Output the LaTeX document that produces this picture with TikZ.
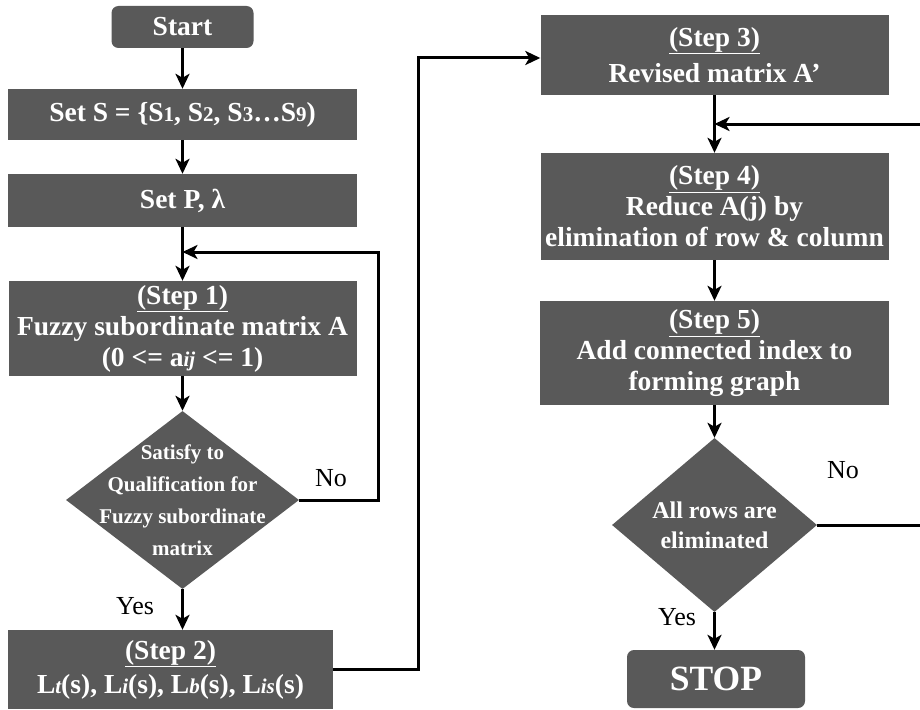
\documentclass[tikz,border=0pt]{standalone}
\usepackage{fontspec}
\setmainfont{Liberation Serif}
\usetikzlibrary{arrows.meta,shapes.geometric}
\definecolor{boxgray}{HTML}{595959}
\newcommand{\smalldig}[1]{{\fontsize{21}{21}\selectfont #1}}
\newcommand{\smallit}[1]{{\itshape\fontsize{21}{21}\selectfont #1}}
\begin{document}
\begin{tikzpicture}[x=1pt,y=-1pt,
  box/.style={draw=none,fill=boxgray,text=white,align=center,inner sep=0pt,font=\bfseries\fontsize{27.5}{31}\selectfont},
  term/.style={box,rounded corners=7pt},
  dia/.style={diamond,fill=boxgray,inner sep=0pt},
  dtext/.style={text=white,align=center,font=\bfseries\fontsize{21}{32}\selectfont},
  lbl/.style={font=\fontsize{26}{26}\selectfont},
  conn/.style={line width=3pt,-{Stealth[length=15pt,width=14pt,inset=4pt]}},
]
\useasboundingbox (0,0) rectangle (920,709);
\fill[white] (0,0) rectangle (920,709);
% left column
\node[term,minimum width=142pt,minimum height=42pt] (start) at (182.5,27) {Start};
\node[box,minimum width=349pt,minimum height=51pt] (sets) at (182.5,114.5) {Set S = \{S\smalldig{1}, S\smalldig{2}, S\smalldig{3}…S\smalldig{9})};
\node[box,minimum width=349pt,minimum height=53pt] (setp) at (182.5,200.5) {Set P, λ};
\node[box,minimum width=348pt,minimum height=95pt] (step1) at (182.5,328.5) {\underline{(Step 1)}\\Fuzzy subordinate matrix A\\(0 <= a\smallit{ij} <= 1)};
\node[dia,minimum width=233pt,minimum height=178pt] (d1) at (182.5,500) {};
\node[dtext] (d1t) at (d1) {Satisfy to\\Qualification for\\Fuzzy subordinate\\matrix};
\node[box,minimum width=325pt,minimum height=79pt] (step2) at (170.5,669.5) {\underline{(Step 2)}\\[3pt]L\smallit{t}(s), L\smallit{i}(s), L\smallit{b}(s), L\smallit{is}(s)};
% right column
\node[box,minimum width=348pt,minimum height=80pt] (step3) at (714.5,55) {\underline{(Step 3)}\\[5pt]Revised matrix A’};
\node[box,minimum width=348pt,minimum height=107pt] (step4) at (714.5,206.5) {\underline{(Step 4)}\\Reduce A(j) by\\elimination of row \& column};
\node[box,minimum width=349pt,minimum height=104pt] (step5) at (714.5,353) {\underline{(Step 5)}\\Add connected index to\\forming graph};
\node[dia,minimum width=205pt,minimum height=174pt] (d2) at (714.5,525) {};
\node[text=white,align=center,font=\bfseries\fontsize{24}{30}\selectfont] (d2t) at (d2) {All rows are\\eliminated};
\node[term,minimum width=178pt,minimum height=58pt,font=\bfseries\fontsize{35.5}{36}\selectfont] (stop) at (716,679) {STOP};
% labels
\node[lbl] (no1) at (331,478) {No};
\node[lbl] (yes1) at (135,606) {Yes};
\node[lbl] (no2) at (843,470) {No};
\node[lbl] (yes2) at (677,617) {Yes};
% connectors
\coordinate (j1) at (182.5,252);
\coordinate (r1) at (378,252);
\coordinate (c2) at (418,58);
\coordinate (j2) at (714.5,124);
\coordinate (r2) at (924,124);
\draw[conn] (start) -- (sets);
\draw[conn] (sets) -- (setp);
\draw[conn] (setp) -- (step1);
\draw[conn] (step1) -- (d1);
\draw[conn] (d1.east) -| (r1) -- (j1);
\draw[conn] (d1.south) -- (d1.south |- step2.north);
\draw[conn] (step2.east) -| (c2) -- (c2 -| step3.west);
\draw[conn] (step3) -- (step4);
\draw[conn] (d2.east) -| (r2) -- (j2);
\draw[conn] (step4) -- (step5);
\draw[conn] (step5) -- (d2);
\draw[conn] (d2.south) -- (d2.south |- stop.north);
\end{tikzpicture}
\end{document}
